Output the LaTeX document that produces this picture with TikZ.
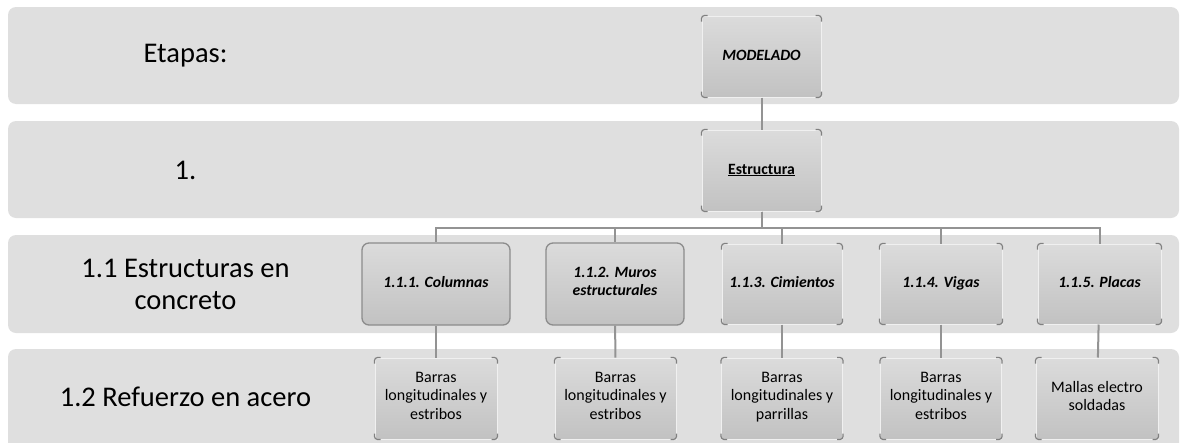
\documentclass[tikz,border=0pt]{standalone}
\usepackage{fontspec}
\setmainfont{Carlito}
\usetikzlibrary{calc}

\begin{document}
\begin{tikzpicture}
[x=1pt,y=-1pt,
band/.style={fill=gray!25,rounded corners=8pt},
stage/.style={font=\fontsize{28.5}{32}\selectfont,align=center,inner sep=0pt},
box/.style={top color=gray!28,bottom color=gray!48,draw=gray!12,line width=1pt,
  minimum height=81pt,inner sep=0pt,align=center,
  execute at begin node=\strut,execute at end node=\strut,
  font=\fontsize{15.7}{17.5}\selectfont\bfseries\itshape},
roundbox/.style={box,draw=gray!90,line width=1.3pt,rounded corners=7pt},
leaf/.style={box,font=\fontsize{16}{18.5}\selectfont},
corner/.style={draw=gray!100,line width=1.2pt,rounded corners=3pt},
link/.style={draw=gray!85,line width=2pt}]
\clip (0,0) rectangle (1183,442);
\fill[band] (8,7) rectangle (1179,104);
\fill[band] (8,121) rectangle (1179,218);
\fill[band] (8,235) rectangle (1179,333);
\fill[band] (8,349) rectangle (1179,452);
\node[stage] (s0) at (185.5,56) {Etapas:};
\node[stage] (s1) at (185.5,170) {1.};
\node[stage] (s2) at (185.5,284) {1.1 Estructuras en\\concreto};
\node[stage] (s3) at (185.5,397) {1.2 Refuerzo en acero};
\node[box,minimum width=119pt] (modl) at (761.5,56.5) {MODELADO};
\node[box,minimum width=119pt,font=\fontsize{15.7}{17.5}\selectfont\bfseries] (estr) at (761.5,170.5) {\underline{Estructura}};
\node[roundbox,minimum width=148pt,minimum height=82pt] (c1) at (436,284) {1.1.1. Columnas};
\node[roundbox,minimum width=138pt,minimum height=82pt] (c2) at (615,284) {1.1.2. Muros\\estructurales};
\node[box,minimum width=120pt,minimum height=80pt] (c3) at (782,284) {1.1.3. Cimientos};
\node[box,minimum width=122pt,minimum height=80pt] (c4) at (941,284) {1.1.4. Vigas};
\node[box,minimum width=123pt,minimum height=80pt] (c5) at (1099.5,284) {1.1.5. Placas};
\node[leaf,minimum width=122pt] (b1) at (436,398.5) {Barras\\longitudinales y\\estribos};
\node[leaf,minimum width=121pt] (b2) at (615.5,398.5) {Barras\\longitudinales y\\estribos};
\node[leaf,minimum width=121pt] (b3) at (782,398.5) {Barras\\longitudinales y\\parrillas};
\node[leaf,minimum width=121pt] (b4) at (941,398.5) {Barras\\longitudinales y\\estribos};
\node[leaf,minimum width=122pt] (b5) at (1097,398.5) {Mallas electro\\soldadas};
\draw[link] (modl) -- (estr);
\foreach \c in {c1,c2,c3,c4,c5}
\draw[link] (estr.south) -- ++(0,16) -| (\c.north);
\foreach \from/\to in {c1/b1,c2/b2,c3/b3,c4/b4,c5/b5}
\draw[link] (\from) -- (\to);
\foreach \n in {modl,estr,c3,c4,c5,b1,b2,b3,b4,b5}{
\draw[corner] ([yshift=-6pt]\n.north west) |- ([xshift=6pt]\n.north west);
\draw[corner] ([yshift=-6pt]\n.north east) |- ([xshift=-6pt]\n.north east);
\draw[corner] ([yshift=6pt]\n.south west) |- ([xshift=6pt]\n.south west);
\draw[corner] ([yshift=6pt]\n.south east) |- ([xshift=-6pt]\n.south east);
}
\end{tikzpicture}
\end{document}
